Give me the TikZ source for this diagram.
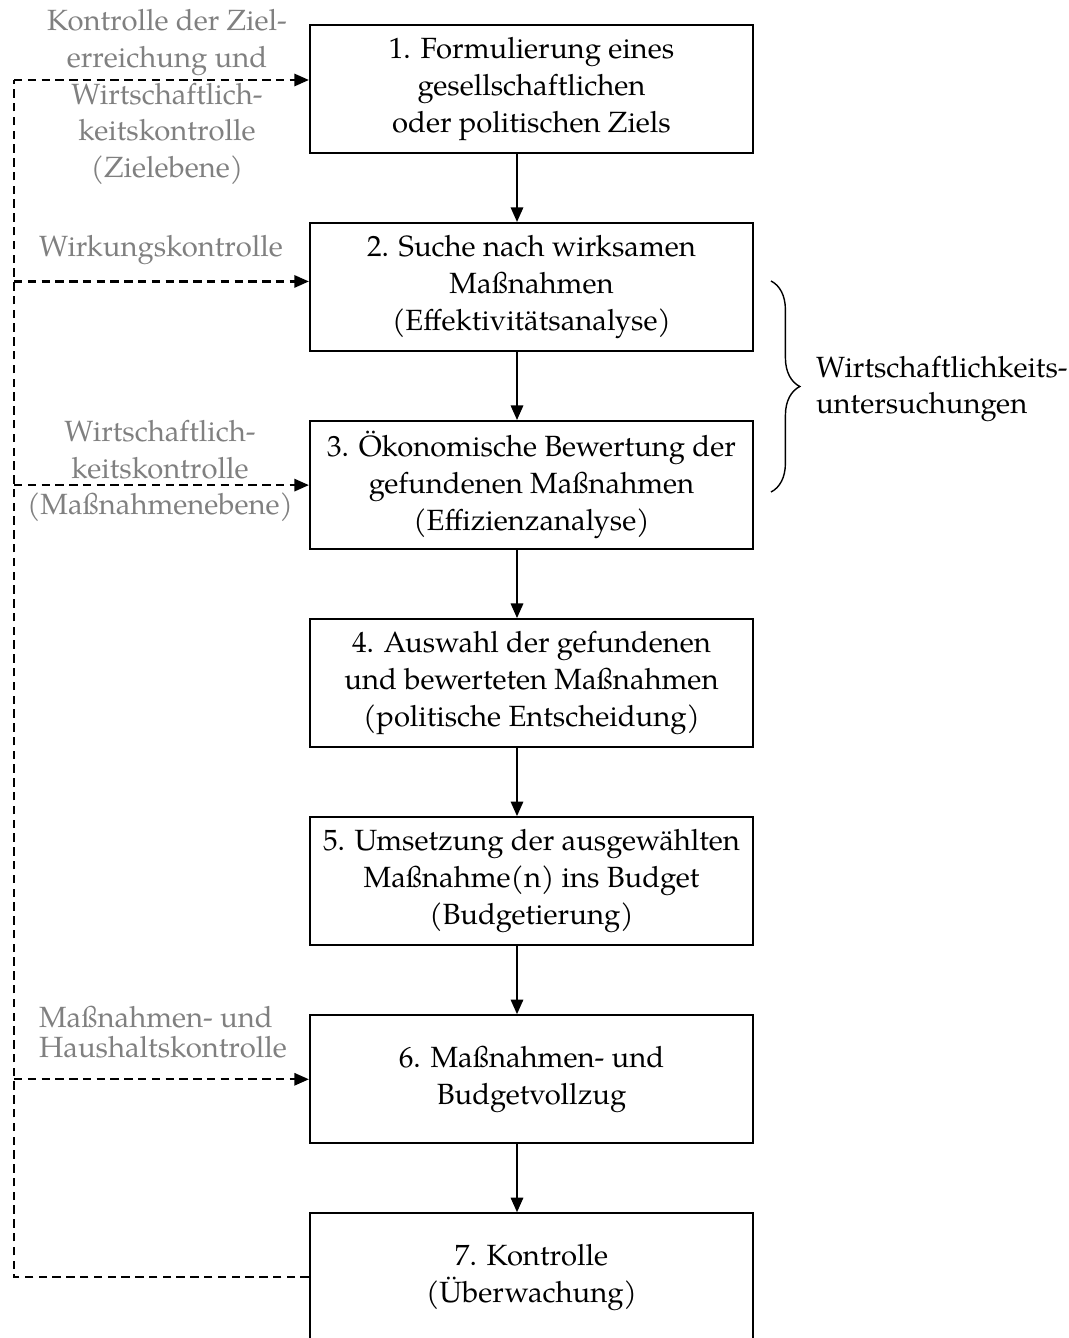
\documentclass[tikz,border=0pt]{standalone}
\usepackage{fontspec}
\setmainfont{TeX Gyre Pagella}
\usetikzlibrary{arrows.meta,positioning,decorations.pathreplacing}
\tikzset{every picture/.style={line width=0.75pt}}

\begin{document}
\begin{tikzpicture}[x=0.0125cm,y=-0.0125cm,node distance=2.475cm,
        font=\fontsize{10.4}{13.1}\selectfont,
        box/.style={draw,minimum width=5.5375cm,minimum height=1.6cm,align=center,inner sep=0pt},
        flow/.style={-{Triangle[length=5.2pt,width=4.4pt]}},
        back/.style={dash pattern=on 3pt off 1.9pt},
        note/.style={text=black!50,align=center,inner sep=0pt}]
        \clip (0,0) rectangle (1069,1338);

        % Schritte
        \node[box] (b1) at (531.5,89) {1. Formulierung eines\\gesellschaftlichen\\oder politischen Ziels};
        \node[box,below of=b1] (b2) {2. Suche nach wirksamen\\Maßnahmen\\(Effektivitätsanalyse)};
        \node[box,below of=b2] (b3) {3. Ökonomische Bewertung der\\gefundenen Maßnahmen\\(Effizienzanalyse)};
        \node[box,below of=b3] (b4) {4. Auswahl der gefundenen\\und bewerteten Maßnahmen\\(politische Entscheidung)};
        \node[box,below of=b4] (b5) {5. Umsetzung der ausgewählten\\Maßnahme(n) ins Budget\\(Budgetierung)};
        \node[box,below of=b5] (b6) {6. Maßnahmen- und\\Budgetvollzug};
        \node[box,below of=b6] (b7) {7. Kontrolle\\(Überwachung)};

        \coordinate (axis) at (517,0);
        \coordinate (loop) at (14,0);
        \coordinate (in1) at ([yshift=0.1125cm]b1.west);
        \coordinate (in2) at ([yshift=0.07cm]b2.west);

        \draw
            (b1.south -| axis) edge[flow] (b2.north -| axis)
            (b2.south -| axis) edge[flow] (b3.north -| axis)
            (b3.south -| axis) edge[flow] (b4.north -| axis)
            (b4.south -| axis) edge[flow] (b5.north -| axis)
            (b5.south -| axis) edge[flow] (b6.north -| axis)
            (b6.south -| axis) edge[flow] (b7.north -| axis)
            ;

        % Rueckkopplung
        \draw[back] (b7.west) -- (b7.west -| loop) -- (in1 -| loop);
        \draw[back]
            (in1 -| loop) edge[flow] (in1)
            (in2 -| loop) edge[flow] (in2)
            (b3.west -| loop) edge[flow] (b3.west)
            (b6.west -| loop) edge[flow] (b6.west)
            ;

        \node[note] (lz) at (167,97) {Kontrolle der Ziel-\\erreichung und\\Wirtschaftlich-\\keitskontrolle\\(Zielebene)};
        \node[note] (lw) at (161,250) {Wirkungskontrolle};
        \node[note] (lm) at (160,471) {Wirtschaftlich-\\keitskontrolle\\(Maßnahmenebene)};
        \node[note,align=left,anchor=west,font=\fontsize{10.4}{10.4}\selectfont] (lh) at (38,1032) {Maßnahmen- und\\Haushaltskontrolle};

        \draw[line width=0.5pt,decorate,decoration={brace,amplitude=0.36cm}] (771,281) -- (771,492);
        \node[align=left,anchor=west,inner sep=0pt] (wu) at (815,389) {Wirtschaftlichkeits-\\untersuchungen};
    \end{tikzpicture}
\end{document}
